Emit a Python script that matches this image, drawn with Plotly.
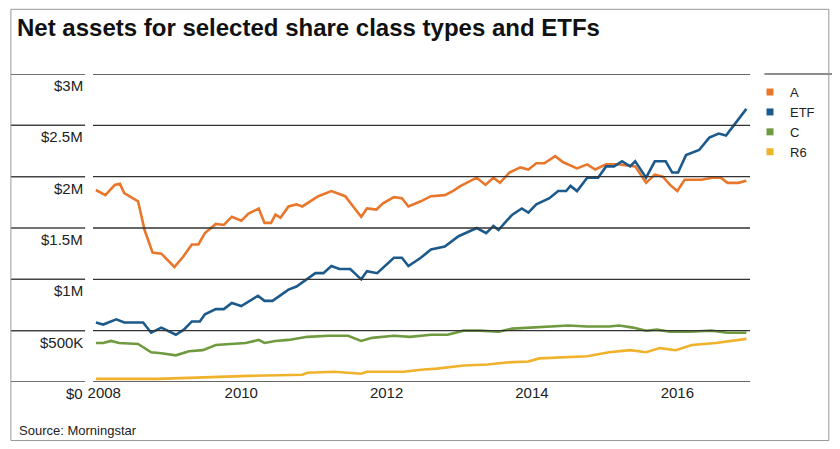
import plotly.graph_objects as go

a_x = [2008.0,2008.13,2008.26,2008.33,2008.39,2008.53,2008.58,2008.67,2008.78,2008.9,2009.08,2009.2,2009.32,2009.41,2009.5,2009.65,2009.76,2009.87,2010.0,2010.1,2010.24,2010.32,2010.41,2010.47,2010.54,2010.65,2010.76,2010.84,2010.95,2011.06,2011.24,2011.43,2011.54,2011.65,2011.73,2011.86,2011.95,2012.1,2012.21,2012.3,2012.47,2012.61,2012.8,2012.91,2013.02,2013.24,2013.36,2013.47,2013.56,2013.69,2013.84,2013.95,2014.06,2014.17,2014.32,2014.43,2014.62,2014.76,2014.87,2015.02,2015.2,2015.42,2015.57,2015.69,2015.8,2015.9,2016.0,2016.1,2016.24,2016.33,2016.48,2016.6,2016.69,2016.84,2016.95]
a_y = [1.87,1.82,1.92,1.93,1.84,1.78,1.76,1.48,1.26,1.25,1.12,1.22,1.34,1.34,1.45,1.54,1.53,1.61,1.57,1.64,1.69,1.55,1.55,1.63,1.60,1.71,1.73,1.71,1.76,1.81,1.86,1.81,1.71,1.61,1.69,1.68,1.74,1.80,1.79,1.71,1.76,1.81,1.82,1.86,1.91,1.99,1.92,1.99,1.94,2.04,2.09,2.07,2.13,2.13,2.20,2.14,2.08,2.12,2.07,2.12,2.12,2.10,1.94,2.02,2.00,1.92,1.86,1.97,1.97,1.97,1.99,1.99,1.94,1.94,1.96]

etf_x = [2008.0,2008.1,2008.28,2008.39,2008.65,2008.76,2008.9,2009.1,2009.21,2009.32,2009.43,2009.5,2009.65,2009.76,2009.87,2010.0,2010.23,2010.32,2010.43,2010.53,2010.65,2010.76,2010.91,2011.02,2011.13,2011.24,2011.35,2011.5,2011.65,2011.73,2011.87,2011.95,2012.1,2012.21,2012.3,2012.47,2012.61,2012.8,2012.99,2013.24,2013.37,2013.47,2013.54,2013.65,2013.73,2013.86,2013.95,2014.06,2014.24,2014.36,2014.47,2014.53,2014.62,2014.76,2014.91,2015.02,2015.13,2015.24,2015.35,2015.42,2015.57,2015.69,2015.84,2015.93,2016.01,2016.12,2016.3,2016.44,2016.57,2016.67,2016.8,2016.95]
etf_y = [0.58,0.56,0.61,0.58,0.58,0.48,0.53,0.46,0.51,0.59,0.59,0.66,0.71,0.71,0.77,0.74,0.84,0.79,0.79,0.84,0.90,0.93,1.01,1.06,1.06,1.13,1.10,1.10,1.00,1.08,1.06,1.11,1.21,1.21,1.13,1.21,1.29,1.32,1.42,1.50,1.45,1.52,1.48,1.57,1.63,1.69,1.65,1.73,1.79,1.86,1.86,1.91,1.86,1.99,1.99,2.10,2.10,2.15,2.10,2.15,1.99,2.15,2.15,2.04,2.04,2.21,2.26,2.38,2.42,2.40,2.52,2.66]

c_x = [2008.0,2008.1,2008.21,2008.32,2008.58,2008.76,2008.9,2009.1,2009.28,2009.47,2009.65,2009.87,2010.06,2010.24,2010.32,2010.47,2010.65,2010.91,2011.2,2011.47,2011.65,2011.8,2012.1,2012.32,2012.61,2012.84,2013.06,2013.28,2013.54,2013.73,2014.02,2014.24,2014.5,2014.76,2015.06,2015.2,2015.39,2015.57,2015.72,2015.9,2016.17,2016.47,2016.69,2016.95]
c_y = [0.38,0.38,0.40,0.38,0.37,0.29,0.28,0.26,0.30,0.31,0.36,0.37,0.38,0.41,0.38,0.40,0.41,0.44,0.45,0.45,0.40,0.43,0.45,0.44,0.46,0.46,0.50,0.50,0.49,0.52,0.53,0.54,0.55,0.54,0.54,0.55,0.53,0.50,0.51,0.49,0.49,0.50,0.48,0.48]

r6_x = [2008.0,2008.84,2009.28,2009.69,2010.1,2010.84,2010.91,2011.28,2011.65,2011.73,2012.24,2012.47,2012.69,2013.06,2013.39,2013.65,2013.95,2014.1,2014.47,2014.76,2015.06,2015.35,2015.57,2015.76,2015.98,2016.2,2016.53,2016.84,2016.95]
r6_y = [0.03,0.03,0.04,0.05,0.06,0.07,0.09,0.10,0.08,0.10,0.10,0.12,0.13,0.16,0.17,0.19,0.20,0.23,0.24,0.25,0.29,0.31,0.29,0.33,0.31,0.36,0.38,0.41,0.42]

series_names = ["A", "ETF", "C", "R6"]
series_colors = ["#E8762B", "#1D5A8C", "#6F9A3F", "#F0B12B"]
y_ticks = [0, 0.5, 1, 1.5, 2, 2.5, 3]
y_tick_labels = ["$0", "$500K", "$1M", "$1.5M", "$2M", "$2.5M", "$3M"]
x_ticks = [2008, 2010, 2012, 2014, 2016]
x_tick_labels = ["&nbsp;&nbsp;&nbsp;&nbsp;2008", "2010", "2012", "2014", "2016"]

FONT = "Liberation Sans, Arial, sans-serif"

fig = go.Figure()
data = [(a_x, a_y), (etf_x, etf_y), (c_x, c_y), (r6_x, r6_y)]
for (xs, ys), name, col in zip(data, series_names, series_colors):
    fig.add_trace(go.Scatter(x=xs, y=ys, mode="lines", line=dict(color=col, width=2.6),
                             showlegend=False, name=name))
for name, col in zip(series_names, series_colors):
    fig.add_trace(go.Scatter(x=[None], y=[None], mode="markers", name=name,
                             marker=dict(symbol="square", size=7, color=col)))

shapes = []
for v in y_ticks:
    shapes.append(dict(type="line", xref="paper", yref="y", x0=-0.125, x1=-0.012, y0=v, y1=v,
                       line=dict(color="#444", width=1.5)))
    shapes.append(dict(type="line", xref="paper", yref="y", x0=0, x1=1, y0=v, y1=v,
                       line=dict(color="#333", width=1.3)))
shapes.append(dict(type="line", xref="paper", yref="paper", x0=1.022, x1=1.13, y0=1, y1=1,
                   line=dict(color="#666", width=1.5)))
shapes.append(dict(type="rect", xref="paper", yref="paper", x0=-0.125, x1=1.12, y0=-0.19, y1=1.21,
                   line=dict(color="#999", width=1)))

annotations = []
for v, t in zip(y_ticks, y_tick_labels):
    annotations.append(dict(x=-0.012, xref="paper", y=v, yref="y", text=t, showarrow=False,
                            xanchor="right", yanchor="top", yshift=-1,
                            font=dict(family=FONT, size=15, color="#222")))
annotations.append(dict(x=-0.118, xref="paper", y=1.1, yref="paper",
                        text="<b>Net assets for selected share class types and ETFs</b>",
                        showarrow=False, xanchor="left", yanchor="bottom",
                        font=dict(family=FONT, size=24, color="#111")))
annotations.append(dict(x=-0.115, xref="paper", y=-0.125, yref="paper",
                        text="Source: Morningstar", showarrow=False, xanchor="left", yanchor="top",
                        font=dict(family=FONT, size=13, color="#222")))

fig.update_layout(
    width=832, height=441,
    margin=dict(l=85, r=90, t=66, b=67, autoexpand=False),
    paper_bgcolor="white", plot_bgcolor="white",
    xaxis=dict(range=[2007.96, 2017.0], tickvals=x_ticks, ticktext=x_tick_labels,
               showgrid=False, zeroline=False, showline=False, ticks="",
               tickfont=dict(family=FONT, size=15, color="#222")),
    yaxis=dict(range=[0, 3], showticklabels=False, showgrid=False, zeroline=False, ticks=""),
    legend=dict(x=1.0, y=0.99, xanchor="left", yanchor="top", tracegroupgap=0,
                font=dict(family=FONT, size=13, color="#222"), itemwidth=30,
                bgcolor="rgba(0,0,0,0)"),
    shapes=shapes, annotations=annotations,
)
fig.write_html("out.html")
